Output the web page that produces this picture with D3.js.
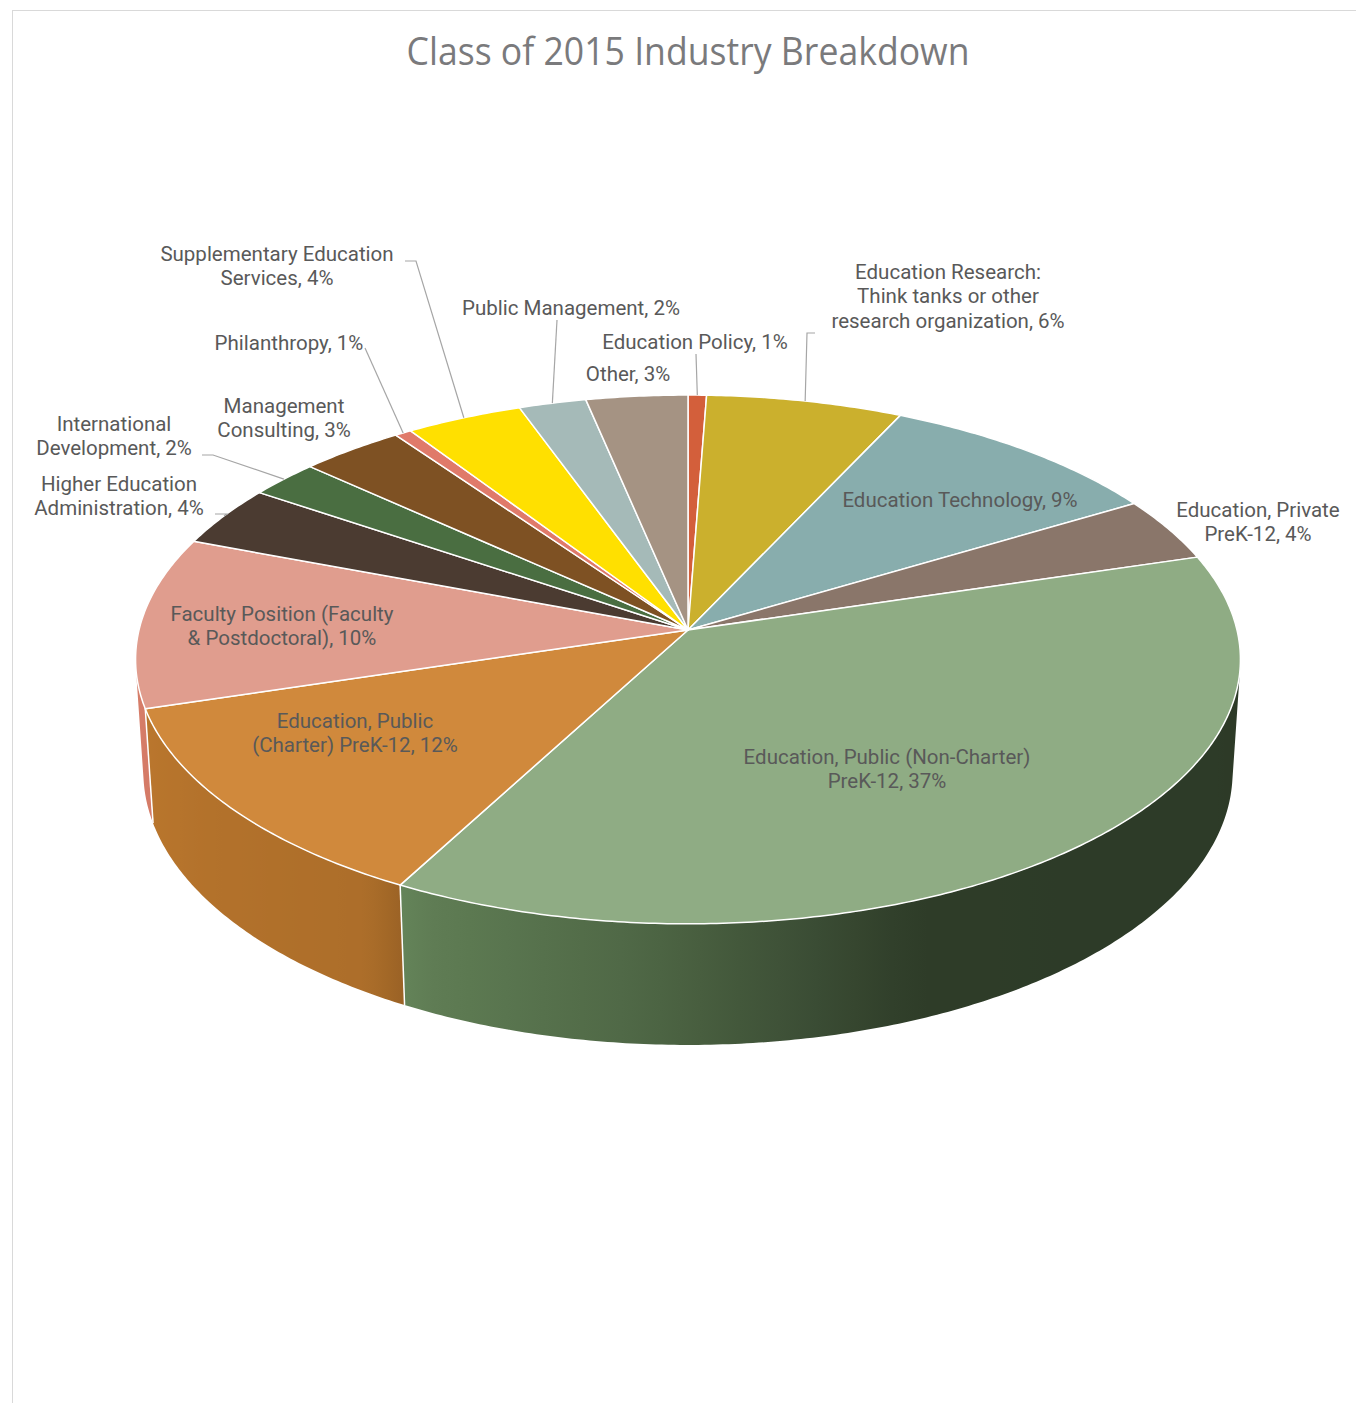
<!DOCTYPE html>
<html><head><meta charset="utf-8">
<script src="https://cdn.jsdelivr.net/npm/d3@7"></script>
<style>body{margin:0;background:#fff}</style>
</head><body>
<svg id="chart" width="1356" height="1403"></svg>
<script>
// ---------- DATA ----------
const title = "Class of 2015 Industry Breakdown";
const categories = [
  "Education Policy",
  "Education Research: Think tanks or other research organization",
  "Education Technology",
  "Education, Private PreK-12",
  "Education, Public (Non-Charter) PreK-12",
  "Education, Public (Charter) PreK-12",
  "Faculty Position (Faculty & Postdoctoral)",
  "Higher Education Administration",
  "International Development",
  "Management Consulting",
  "Philanthropy",
  "Supplementary Education Services",
  "Public Management",
  "Other"
];
const values = [0.6, 6.4, 9.45, 3.9, 37.49, 12.45, 10.45, 3.7, 2.3, 3.4, 0.55, 3.8, 2.2, 3.31];
const labelLines = [
  ["Education Policy"],
  ["Education Research:", "Think tanks or other", "research organization"],
  ["Education Technology"],
  ["Education, Private", "PreK-12"],
  ["Education, Public (Non-Charter)", "PreK-12"],
  ["Education, Public", "(Charter) PreK-12"],
  ["Faculty Position (Faculty", "& Postdoctoral)"],
  ["Higher Education", "Administration"],
  ["International", "Development"],
  ["Management", "Consulting"],
  ["Philanthropy"],
  ["Supplementary Education", "Services"],
  ["Public Management"],
  ["Other"]
];
const colors = ["#D35F3B", "#CBB02D", "#88ADAD", "#8A766A", "#8FAC84", "#D0893C", "#E09D8E",
                "#4B3B31", "#4A6E41", "#7E5123", "#E07A6A", "#FFE000", "#A5BAB8", "#A59383"];

// ---------- LAYOUT (label placement, leader elbows) ----------
const labelLayout = [
  {x: 695, y: 342, leader: [[696, 354]]},
  {x: 948, y: 272, leader: [[807, 333], [815, 333]]},
  {x: 960, y: 500},
  {x: 1258, y: 510},
  {x: 887, y: 757},
  {x: 355, y: 721},
  {x: 282, y: 614},
  {x: 119, y: 484, leader: [[227, 514], [215, 514]]},
  {x: 114, y: 424, leader: [[213, 455], [202, 455]]},
  {x: 284, y: 406},
  {x: 289, y: 343, leader: [[365, 348]]},
  {x: 277, y: 254, leader: [[416, 261], [405, 261]]},
  {x: 571, y: 308, leader: [[557, 320]]},
  {x: 628, y: 374}
];

// ---------- 3D PROJECTION ----------
const cx = 688, cy = 630, K = 4337, Dist = 7.9, thick = 0.235;
const alpha = 28.4 * Math.PI / 180, ca = Math.cos(alpha), sa = Math.sin(alpha);
function proj(theta, Y) {
  const X = Math.sin(theta), Z = -Math.cos(theta);
  const yc = Y * ca - Z * sa, zc = Y * sa + Z * ca;
  const d = Dist - zc;
  return [cx + K * X / d, cy - K * yc / d];
}
const visMin = Math.acos(-1 / (Dist * ca));
const visMax = 2 * Math.PI - visMin;
const shade = d3.scaleLinear()
  .domain([98, 158, 170, 185, 207, 212, 235, 262])
  .range([0.32, 0.33, 0.44, 0.57, 0.70, 0.80, 0.83, 0.88])
  .clamp(true);

const svg = d3.select("#chart");
const defs = svg.append("defs");

svg.append("rect").attr("x", 12.5).attr("y", 10.5).attr("width", 1360).attr("height", 1400)
  .attr("fill", "#fff").attr("stroke", "#d9d9d9").attr("stroke-width", 1);

svg.append("text").attr("x", 688).attr("y", 65).attr("text-anchor", "middle")
  .attr("font-family", "'Open Sans', sans-serif").attr("font-size", 38)
  .attr("fill", "#7a7a7c").attr("textLength", 563).attr("lengthAdjust", "spacingAndGlyphs")
  .text(title);

const pie = d3.pie().sort(null).value(d => d).startAngle(0).endAngle(2 * Math.PI);
const arcs = pie(values);
const total = d3.sum(values);

function arcPoints(a0, a1, Y) {
  const n = Math.max(2, Math.ceil(Math.abs(a1 - a0) / 0.01));
  return d3.range(n + 1).map(i => proj(a0 + (a1 - a0) * i / n, Y));
}
const line = d3.line();

// sides
const gSide = svg.append("g");
arcs.forEach((a, i) => {
  const a0 = Math.max(a.startAngle, visMin), a1 = Math.min(a.endAngle, visMax);
  if (a1 <= a0) return;
  const top = arcPoints(a0, a1, 0), bot = arcPoints(a1, a0, -thick);
  const xs = top.concat(bot).map(p => p[0]);
  const xmin = d3.min(xs), xmax = d3.max(xs);
  const gid = "side" + i;
  const grad = defs.append("linearGradient").attr("id", gid)
    .attr("gradientUnits", "userSpaceOnUse")
    .attr("x1", xmin).attr("x2", xmax).attr("y1", 0).attr("y2", 0);
  const base = d3.hsl(colors[i]);
  const stops = d3.range(31).map(k => {
    const t = a0 + (a1 - a0) * k / 30;
    const x = proj(t, 0)[0];
    const f = shade(t * 180 / Math.PI);
    const c = d3.hsl(base.h, base.s, base.l * f);
    return {off: (x - xmin) / (xmax - xmin), c: c};
  }).sort((p, q) => p.off - q.off);
  stops.forEach(s => grad.append("stop").attr("offset", Math.max(0, Math.min(1, s.off))).attr("stop-color", s.c.formatHex()));
  gSide.append("path").attr("d", line(top.concat(bot)) + "Z").attr("fill", `url(#${gid})`);
});
// white separators on side
arcs.forEach(a => {
  const t = a.startAngle;
  if (t > visMin && t < visMax) {
    const p0 = proj(t, 0), p1 = proj(t, -thick);
    gSide.append("line").attr("x1", p0[0]).attr("y1", p0[1]).attr("x2", p1[0]).attr("y2", p1[1])
      .attr("stroke", "#fff").attr("stroke-width", 1.5);
  }
});

// top faces
const gTop = svg.append("g");
arcs.forEach((a, i) => {
  const pts = [[cx, cy]].concat(arcPoints(a.startAngle, a.endAngle, 0));
  gTop.append("path").attr("d", line(pts) + "Z").attr("fill", colors[i])
    .attr("stroke", "#fff").attr("stroke-width", 1.5).attr("stroke-linejoin", "round");
});

// leaders
const gLead = svg.append("g");
arcs.forEach((a, i) => {
  const L = labelLayout[i];
  if (!L.leader) return;
  const mid = (a.startAngle + a.endAngle) / 2;
  const pts = [proj(mid, 0)].concat(L.leader);
  gLead.append("path").attr("d", line(pts)).attr("fill", "none")
    .attr("stroke", "#a6a6a6").attr("stroke-width", 1.2);
});

// labels
const gLab = svg.append("g").attr("font-family", "Roboto, sans-serif").attr("font-size", 20.5)
  .attr("fill", "#595959").attr("text-anchor", "middle");
arcs.forEach((a, i) => {
  const L = labelLayout[i];
  const pct = Math.round(values[i] / total * 100 + 1e-9) + "%";
  const lines = labelLines[i].slice();
  lines[lines.length - 1] = lines[lines.length - 1] + ", " + pct;
  lines.forEach((s, k) => {
    gLab.append("text").attr("x", L.x).attr("y", L.y + k * 24.3).attr("dy", "0.35em").text(s);
  });
});
</script>
</body></html>
